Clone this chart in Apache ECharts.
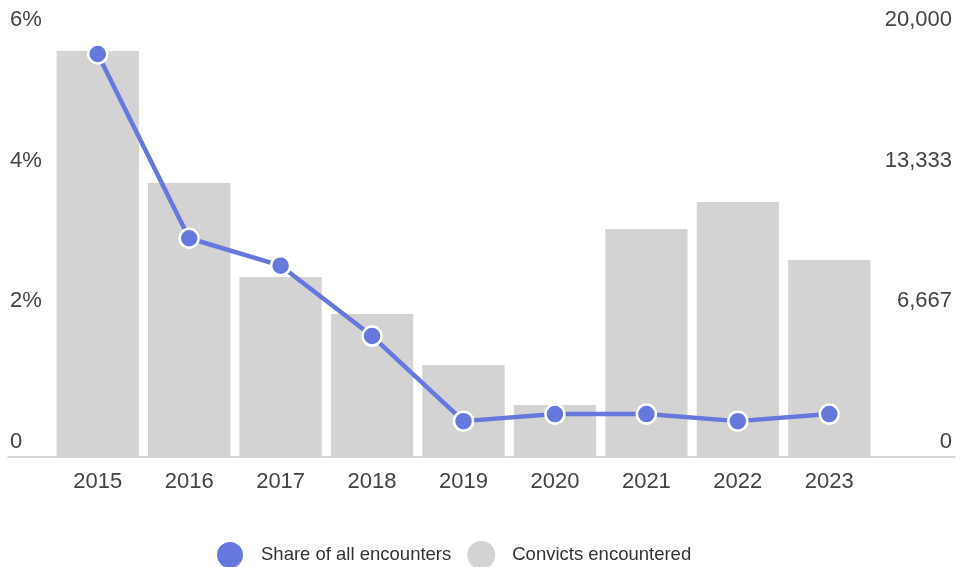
<!DOCTYPE html>
<html>
<head>
<meta charset="utf-8">
<script src="https://cdn.jsdelivr.net/npm/echarts@6/dist/echarts.min.js"></script>
<style>html,body{margin:0;padding:0;background:#fff;}#c{width:960px;height:567px;}</style>
</head>
<body>
<div id="c"></div>
<script>
var years = ['2015','2016','2017','2018','2019','2020','2021','2022','2023'];
var convicts = [19240, 12990, 8530, 6780, 4360, 2460, 10800, 12090, 9340];
var sharePct = [5.73, 3.11, 2.72, 1.72, 0.51, 0.61, 0.61, 0.51, 0.61];
var leftTicks = [0, 2, 4, 6];
var rightMax = 20000;

var FONT = '"Liberation Sans", Arial, sans-serif';
var chart = echarts.init(document.getElementById('c'));
chart.setOption({
  animation: false,
  backgroundColor: '#fff',
  textStyle: {fontFamily: FONT},
  grid: [
    {left: 52, right: 85, top: 35, bottom: 110},
    {left: 8, right: 5, top: 35, bottom: 110}
  ],
  legend: {
    left: 210, top: 535,
    itemWidth: 28, itemHeight: 28, itemGap: 16,
    icon: 'circle',
    textStyle: {fontSize: 18.5, color: '#333', fontFamily: FONT, padding: [0, 0, 0, 12]},
    data: ['Share of all encounters', 'Convicts encountered']
  },
  xAxis: [
    {type: 'category', gridIndex: 0, data: years,
     axisLine: {show: false}, axisTick: {show: false},
     axisLabel: {fontSize: 22, color: '#444', margin: 14}},
    {type: 'value', gridIndex: 1, min: 0, max: 1,
     axisLine: {show: true, lineStyle: {color: '#cccccc', width: 1.5}},
     axisTick: {show: false}, axisLabel: {show: false}, splitLine: {show: false}}
  ],
  yAxis: [
    {type: 'value', gridIndex: 0, min: leftTicks[0], max: leftTicks[leftTicks.length-1], interval: 2,
     axisLine: {show: false}, axisTick: {show: false}, splitLine: {show: false},
     axisLabel: {align: 'left', margin: 42, verticalAlign: 'bottom', padding: [0,0,4,0],
       fontSize: 22, color: '#444',
       formatter: function(v){ return v === 0 ? '0' : v + '%'; }}},
    {type: 'value', gridIndex: 0, position: 'right', min: 0, max: rightMax, interval: rightMax/3,
     axisLine: {show: false}, axisTick: {show: false}, splitLine: {show: false},
     axisLabel: {align: 'right', margin: 77, verticalAlign: 'bottom', padding: [0,0,4,0],
       fontSize: 22, color: '#444',
       formatter: function(v){ return Math.round(v).toLocaleString('en-US'); }}},
    {type: 'value', gridIndex: 1, show: false}
  ],
  series: [
    {name: 'Convicts encountered', type: 'bar', xAxisIndex: 0, yAxisIndex: 1,
     data: convicts, barCategoryGap: '10%',
     itemStyle: {color: '#d3d3d3'}, z: 1},
    {name: 'Share of all encounters', type: 'line', xAxisIndex: 0, yAxisIndex: 0,
     data: sharePct, symbol: 'circle', symbolSize: 19,
     lineStyle: {color: '#6678dd', width: 4.5},
     itemStyle: {color: '#6678dd', borderColor: '#fff', borderWidth: 2.5}, z: 3}
  ]
});
</script>
</body>
</html>
